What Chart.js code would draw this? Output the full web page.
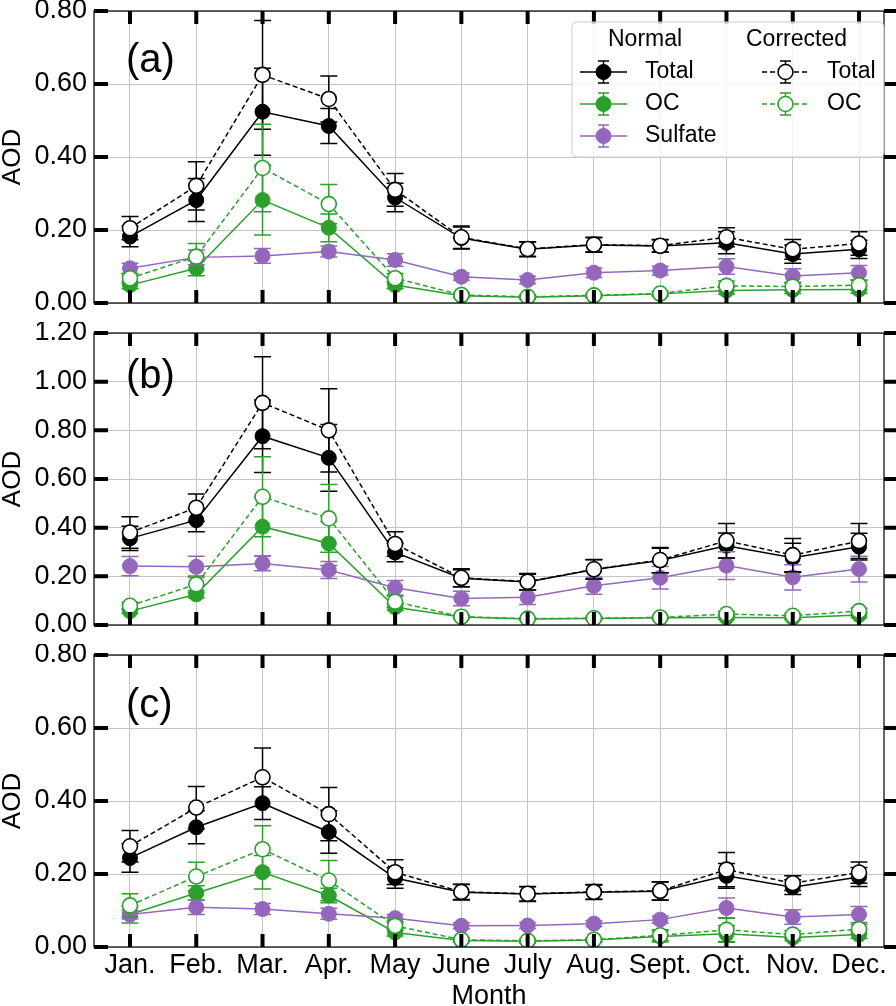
<!DOCTYPE html>
<html>
<head>
<meta charset="utf-8">
<script src="https://cdn.jsdelivr.net/npm/chart.js@4.4.0/dist/chart.umd.min.js"></script>
<style>
  html, body { margin: 0; padding: 0; background: #fff; }
  #wrap { position: relative; width: 896px; height: 1006px; }
  canvas { position: absolute; left: 0; }
</style>
</head>
<body>
<div id="wrap">
  <canvas id="chartA" width="896" height="322" style="top:0"></canvas>
  <canvas id="chartB" width="896" height="322" style="top:322px"></canvas>
  <canvas id="chartC" width="896" height="362" style="top:644px"></canvas>
</div>
<script>
// months on the x axis
const MONTHS = ['Jan.', 'Feb.', 'Mar.', 'Apr.', 'May', 'June', 'July', 'Aug.', 'Sept.', 'Oct.', 'Nov.', 'Dec.'];

// panel (a)
const aTotal       = [0.182, 0.282, 0.524, 0.485, 0.289, 0.178, 0.147, 0.159, 0.156, 0.165, 0.134, 0.147];
const aTotalErr    = [0.028, 0.059, 0.119, 0.048, 0.039, 0.030, 0.020, 0.020, 0.017, 0.030, 0.025, 0.025];
const aOC          = [0.049, 0.095, 0.282, 0.206, 0.049, 0.020, 0.016, 0.020, 0.025, 0.034, 0.036, 0.037];
const aOCErr       = [0.010, 0.020, 0.096, 0.038, 0.010, 0.005, 0.005, 0.005, 0.006, 0.010, 0.010, 0.010];
const aSulfate     = [0.095, 0.125, 0.129, 0.141, 0.118, 0.072, 0.063, 0.083, 0.089, 0.100, 0.074, 0.083];
const aSulfateErr  = [0.014, 0.020, 0.020, 0.015, 0.017, 0.010, 0.010, 0.013, 0.012, 0.021, 0.020, 0.020];
const aTotalCor    = [0.205, 0.321, 0.625, 0.559, 0.310, 0.180, 0.148, 0.160, 0.157, 0.180, 0.147, 0.163];
const aTotalCorErr = [0.032, 0.066, 0.149, 0.063, 0.045, 0.031, 0.020, 0.020, 0.017, 0.026, 0.027, 0.032];
const aOCCor       = [0.068, 0.127, 0.370, 0.271, 0.068, 0.022, 0.017, 0.021, 0.026, 0.047, 0.045, 0.049];
const aOCCorErr    = [0.013, 0.036, 0.120, 0.054, 0.013, 0.006, 0.005, 0.005, 0.006, 0.013, 0.012, 0.013];

// panel (b)
const bTotal       = [0.356, 0.431, 0.776, 0.687, 0.298, 0.192, 0.177, 0.228, 0.265, 0.326, 0.276, 0.322];
const bTotalErr    = [0.050, 0.048, 0.149, 0.137, 0.038, 0.035, 0.032, 0.040, 0.050, 0.052, 0.060, 0.055];
const bOC          = [0.057, 0.126, 0.404, 0.335, 0.073, 0.033, 0.025, 0.027, 0.030, 0.031, 0.030, 0.041];
const bOCErr       = [0.010, 0.015, 0.120, 0.090, 0.013, 0.006, 0.005, 0.005, 0.005, 0.008, 0.008, 0.010];
const bSulfate     = [0.242, 0.239, 0.253, 0.226, 0.153, 0.109, 0.114, 0.161, 0.194, 0.244, 0.196, 0.230];
const bSulfateErr  = [0.040, 0.044, 0.030, 0.035, 0.030, 0.030, 0.030, 0.035, 0.046, 0.057, 0.052, 0.053];
const bTotalCor    = [0.380, 0.482, 0.913, 0.800, 0.333, 0.194, 0.178, 0.229, 0.267, 0.346, 0.287, 0.345];
const bTotalCorErr = [0.065, 0.056, 0.189, 0.171, 0.050, 0.037, 0.034, 0.040, 0.052, 0.071, 0.068, 0.072];
const bOCCor       = [0.079, 0.167, 0.527, 0.438, 0.096, 0.034, 0.026, 0.028, 0.031, 0.045, 0.038, 0.057];
const bOCCorErr    = [0.015, 0.034, 0.164, 0.139, 0.023, 0.006, 0.005, 0.005, 0.005, 0.010, 0.009, 0.012];

// panel (c)
const cTotal       = [0.244, 0.328, 0.394, 0.315, 0.189, 0.150, 0.145, 0.150, 0.153, 0.195, 0.164, 0.192];
const cTotalErr    = [0.039, 0.045, 0.045, 0.058, 0.028, 0.021, 0.020, 0.020, 0.025, 0.034, 0.020, 0.026];
const cOC          = [0.089, 0.148, 0.205, 0.141, 0.040, 0.018, 0.016, 0.019, 0.029, 0.036, 0.026, 0.034];
const cOCErr       = [0.023, 0.020, 0.046, 0.020, 0.010, 0.005, 0.005, 0.005, 0.015, 0.023, 0.008, 0.010];
const cSulfate     = [0.089, 0.109, 0.104, 0.091, 0.079, 0.058, 0.059, 0.064, 0.075, 0.107, 0.082, 0.089];
const cSulfateErr  = [0.012, 0.020, 0.015, 0.015, 0.010, 0.008, 0.008, 0.008, 0.010, 0.027, 0.020, 0.022];
const cTotalCor    = [0.276, 0.382, 0.465, 0.364, 0.205, 0.151, 0.146, 0.151, 0.154, 0.212, 0.175, 0.204];
const cTotalCorErr = [0.043, 0.058, 0.080, 0.073, 0.034, 0.021, 0.020, 0.020, 0.025, 0.047, 0.020, 0.029];
const cOCCor       = [0.114, 0.193, 0.268, 0.182, 0.058, 0.020, 0.017, 0.020, 0.032, 0.047, 0.034, 0.049];
const cOCCorErr    = [0.032, 0.039, 0.064, 0.055, 0.012, 0.005, 0.005, 0.005, 0.015, 0.032, 0.010, 0.013];

const FONT = "'Liberation Sans', Arial, Helvetica, sans-serif";
const BLACK = '#000000';
const GREEN = '#2ca02c';
const PURPLE = '#9467bd';
const GRID = '#c4c4c4';

Chart.defaults.font.family = FONT;
Chart.defaults.color = '#000';

// one dataset with its error bars
function series(label, vals, errs, color, corrected, order) {
    return {
        label: label,
        data: vals.map((v, i) => ({ x: i + 1, y: v })),
        errors: errs,
        borderColor: color,
        backgroundColor: color,
        borderWidth: 1.5,
        borderDash: corrected ? [5, 3] : [],
        pointRadius: 7.5,
        pointHoverRadius: 7.5,
        pointBorderWidth: corrected ? 1.6 : 1,
        pointBackgroundColor: corrected ? '#ffffff' : color,
        pointBorderColor: color,
        tension: 0,
        order: order
    };
}

// error bars drawn just before each dataset
const errorBars = {
    id: 'errorBars',
    beforeDatasetDraw(chart, args) {
        const ds = chart.data.datasets[args.index];
        if (!ds.errors) return;
        const ctx = chart.ctx;
        const xs = chart.scales.x, ys = chart.scales.y;
        ctx.save();
        ctx.strokeStyle = ds.borderColor;
        ctx.lineWidth = 1.5;
        ctx.setLineDash([]);
        ds.data.forEach((p, i) => {
            const e = ds.errors[i];
            const px = xs.getPixelForValue(p.x);
            const lo = ys.getPixelForValue(p.y - e);
            const hi = ys.getPixelForValue(p.y + e);
            ctx.beginPath();
            ctx.moveTo(px, lo); ctx.lineTo(px, hi);
            ctx.moveTo(px - 8.5, lo); ctx.lineTo(px + 8.5, lo);
            ctx.moveTo(px - 8.5, hi); ctx.lineTo(px + 8.5, hi);
            ctx.stroke();
        });
        ctx.restore();
    }
};

function drawHandle(ctx, ds, x0, x1, y) {
    const xm = (x0 + x1) / 2;
    ctx.strokeStyle = ds.borderColor;
    ctx.lineWidth = 1.5;
    ctx.setLineDash(ds.borderDash);
    ctx.beginPath(); ctx.moveTo(x0, y); ctx.lineTo(x1, y); ctx.stroke();
    ctx.setLineDash([]);
    ctx.beginPath();
    ctx.moveTo(xm, y - 11); ctx.lineTo(xm, y + 11);
    ctx.moveTo(xm - 5.5, y - 11); ctx.lineTo(xm + 5.5, y - 11);
    ctx.moveTo(xm - 5.5, y + 11); ctx.lineTo(xm + 5.5, y + 11);
    ctx.stroke();
    ctx.beginPath();
    ctx.arc(xm, y, 7.5, 0, Math.PI * 2);
    ctx.fillStyle = ds.pointBackgroundColor;
    ctx.fill();
    ctx.lineWidth = ds.pointBorderWidth;
    ctx.stroke();
}

// two-column legend in panel (a)
function drawLegend(chart) {
    const ctx = chart.ctx, a = chart.chartArea;
    const sets = chart.data.datasets;
    const w = 312, h = 135;
    const left = a.right - w, top = a.top + 11;
    ctx.save();
    ctx.beginPath();
    ctx.roundRect(left, top, w, h, 5);
    ctx.fillStyle = 'rgba(255,255,255,0.8)';
    ctx.fill();
    ctx.strokeStyle = '#cccccc';
    ctx.lineWidth = 1;
    ctx.stroke();

    ctx.font = '23px ' + FONT;
    ctx.fillStyle = '#000';
    ctx.textBaseline = 'middle';
    ctx.textAlign = 'left';
    ctx.fillText('Normal', left + 36, top + 18);
    ctx.fillText('Corrected', left + 174, top + 18);

    const rows = [
        { ds: sets[0], col: 0, row: 0 },
        { ds: sets[1], col: 0, row: 1 },
        { ds: sets[2], col: 0, row: 2 },
        { ds: sets[3], col: 1, row: 0 },
        { ds: sets[4], col: 1, row: 1 }
    ];
    rows.forEach(r => {
        const y = top + 50 + r.row * 32;
        const hx = r.col === 0 ? left + 8 : left + 190;
        ctx.save();
        drawHandle(ctx, r.ds, hx, hx + 47, y);
        ctx.restore();
        ctx.fillStyle = '#000';
        ctx.fillText(r.ds.label, hx + 65, y);
    });
    ctx.restore();
}

// frame, thick inward ticks, panel letter and legend
const panelDecor = {
    id: 'panelDecor',
    afterDraw(chart, args, opts) {
        const ctx = chart.ctx, a = chart.chartArea;
        const xs = chart.scales.x, ys = chart.scales.y;
        ctx.save();
        ctx.strokeStyle = '#000';
        ctx.lineWidth = 1.2;
        ctx.strokeRect(a.left, a.top, a.right - a.left, a.bottom - a.top);

        ctx.lineWidth = 4;
        ctx.beginPath();
        ys.ticks.forEach(t => {
            const py = ys.getPixelForValue(t.value);
            ctx.moveTo(a.left, py); ctx.lineTo(a.left + 14, py);
            ctx.moveTo(a.right, py); ctx.lineTo(a.right + 14, py);
        });
        xs.ticks.forEach(t => {
            const px = xs.getPixelForValue(t.value);
            ctx.moveTo(px, a.top); ctx.lineTo(px, a.top + 13);
            ctx.moveTo(px, a.bottom); ctx.lineTo(px, a.bottom - 13);
        });
        ctx.stroke();

        ctx.font = '40px ' + FONT;
        ctx.fillStyle = '#000';
        ctx.textAlign = 'left';
        ctx.textBaseline = 'alphabetic';
        ctx.fillText(opts.label, a.left + 32, a.top + opts.labelDy);
        ctx.restore();

        if (opts.legend) drawLegend(chart);
    }
};

function makePanel(id, sets, yMax, showX, xHeight, label, labelDy, legend) {
    const datasets = [
        series('Total', sets[0], sets[1], BLACK, false, 4),
        series('OC', sets[2], sets[3], GREEN, false, 3),
        series('Sulfate', sets[4], sets[5], PURPLE, false, 2),
        series('Total', sets[6], sets[7], BLACK, true, 1),
        series('OC', sets[8], sets[9], GREEN, true, 0)
    ];
    return new Chart(document.getElementById(id), {
        type: 'line',
        data: { datasets: datasets },
        plugins: [errorBars, panelDecor],
        options: {
            responsive: false,
            animation: false,
            events: [],
            layout: { padding: { top: 11, right: 12, left: 0, bottom: 0 } },
            plugins: {
                legend: { display: false },
                tooltip: { enabled: false },
                panelDecor: { label: label, labelDy: labelDy, legend: legend }
            },
            scales: {
                x: {
                    type: 'linear',
                    min: 0.457,
                    max: 12.377,
                    ticks: {
                        display: showX,
                        stepSize: 1,
                        includeBounds: false,
                        autoSkip: false,
                        maxRotation: 0,
                        padding: 2,
                        font: { size: 27 },
                        callback: v => MONTHS[v - 1] || ''
                    },
                    grid: { color: GRID, lineWidth: 1, drawTicks: false },
                    border: { display: false },
                    title: {
                        display: showX,
                        text: 'Month',
                        font: { size: 27, lineHeight: 1 },
                        padding: { top: 0, bottom: -4 }
                    },
                    afterFit: s => { s.height = xHeight; s.paddingLeft = 0; s.paddingRight = 0; }
                },
                y: {
                    min: 0,
                    max: yMax,
                    ticks: {
                        stepSize: 0.2,
                        padding: 7,
                        font: { size: 27 },
                        callback: v => v.toFixed(2)
                    },
                    grid: { color: GRID, lineWidth: 1, drawTicks: false },
                    border: { display: false },
                    title: {
                        display: true,
                        text: 'AOD',
                        font: { size: 26, lineHeight: 1 },
                        padding: { top: 0, bottom: 0 }
                    },
                    afterFit: s => { s.width = 94; s.paddingTop = 0; s.paddingBottom = 0; }
                }
            }
        }
    });
}

makePanel('chartA',
    [aTotal, aTotalErr, aOC, aOCErr, aSulfate, aSulfateErr, aTotalCor, aTotalCorErr, aOCCor, aOCCorErr],
    0.8, false, 19, '(a)', 61, true);
makePanel('chartB',
    [bTotal, bTotalErr, bOC, bOCErr, bSulfate, bSulfateErr, bTotalCor, bTotalCorErr, bOCCor, bOCCorErr],
    1.2, false, 19, '(b)', 55, false);
makePanel('chartC',
    [cTotal, cTotalErr, cOC, cOCErr, cSulfate, cSulfateErr, cTotalCor, cTotalCorErr, cOCCor, cOCCorErr],
    0.8, true, 59, '(c)', 62, false);
</script>
</body>
</html>
